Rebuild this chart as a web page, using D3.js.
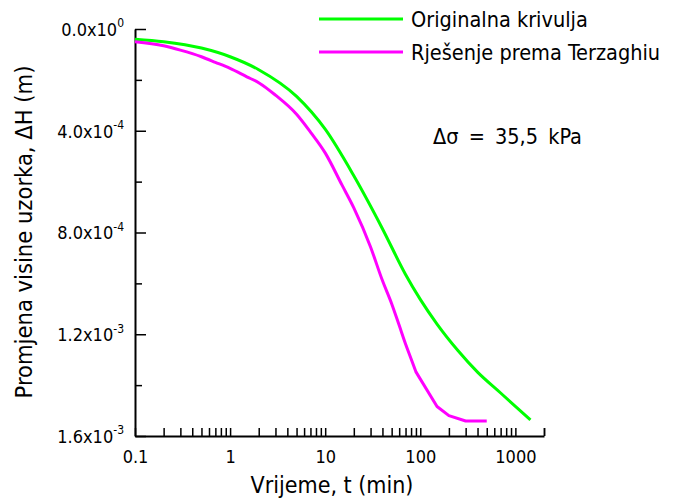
<!DOCTYPE html>
<html>
<head>
<meta charset="utf-8">
<script src="https://cdn.jsdelivr.net/npm/d3@7"></script>
<style>
  html, body { margin: 0; padding: 0; background: #fff; }
  svg text { font-family: "DejaVu Sans Condensed", "DejaVu Sans", sans-serif; font-stretch: condensed; fill: #000; }
</style>
</head>
<body>
<svg id="chart" width="691" height="500"></svg>
<script>
// Settlement curve: time (min) vs. change in sample height (m)
const originalTime = [0.1, 0.2, 0.5, 1, 2, 5, 10, 20, 40, 70, 100, 150, 250, 400, 700, 1440];
const originalDH   = [0.040e-3, 0.050e-3, 0.075e-3, 0.109e-3, 0.160e-3, 0.265e-3, 0.394e-3, 0.577e-3,
                      0.785e-3, 0.965e-3, 1.063e-3, 1.160e-3, 1.265e-3, 1.349e-3, 1.431e-3, 1.537e-3];

// Terzaghi consolidation solution
const terzaghiTime = [0.1, 0.2, 0.3, 0.5, 0.7, 1, 1.5, 2, 3, 5, 7, 10, 15, 20, 30, 40, 50, 60, 70, 80, 90, 150, 200, 300, 500];
const terzaghiDH   = [0.050e-3, 0.066e-3, 0.083e-3, 0.109e-3, 0.131e-3, 0.155e-3, 0.188e-3, 0.211e-3, 0.260e-3,
                      0.335e-3, 0.405e-3, 0.487e-3, 0.613e-3, 0.703e-3, 0.857e-3, 0.989e-3, 1.080e-3, 1.165e-3,
                      1.238e-3, 1.296e-3, 1.348e-3, 1.484e-3, 1.520e-3, 1.541e-3, 1.541e-3];

const seriesNames = ["Originalna krivulja", "Rješenje prema Terzaghiu"];
const seriesColors = ["#00ff00", "#ff00ff"];

const xMajorTicks = [0.1, 1, 10, 100, 1000];
const xTickLabels = ["0.1", "1", "10", "100", "1000"];
const yMajorTicks = [0, 4e-4, 8e-4, 1.2e-3, 1.6e-3];
const yMantissa = ["0.0", "4.0", "8.0", "1.2", "1.6"];
const yExponent = ["0", "-4", "-4", "-3", "-3"];
const yMinorTicks = [2e-4, 6e-4, 10e-4, 14e-4];

const xTitle = "Vrijeme, t (min)";
const yTitle = "Promjena visine uzorka, \u0394H (m)";
const note = "\u0394\u03c3 = 35,5 kPa";

const svg = d3.select("#chart");
const x = d3.scaleLog().domain([0.1, 2000]).range([135, 544]);
const y = d3.scaleLinear().domain([0, 1.6e-3]).range([29, 436]);

// all log ticks for the time axis: every integer multiple inside each decade
const xAllTicks = [];
for (let e = -1; e <= 3; e++) {
  for (let m = 1; m <= 9; m++) {
    const v = m * Math.pow(10, e);
    if (v <= 2000) xAllTicks.push(+v.toPrecision(3));
  }
}
xAllTicks.push(2000);

const xAxis = d3.axisBottom(x)
  .tickValues(xAllTicks)
  .tickSizeInner(-8)
  .tickSizeOuter(0)
  .tickPadding(14)
  .tickFormat(d => {
    const i = xMajorTicks.findIndex(v => Math.abs(v - d) < 1e-9);
    return i >= 0 ? xTickLabels[i] : "";
  });

const gx = svg.append("g").attr("transform", `translate(0,${y(1.6e-3)})`).call(xAxis);
gx.select(".domain").attr("stroke", "#000").attr("stroke-width", 2);
gx.selectAll(".tick line").attr("stroke", "#000").attr("stroke-width", 1.5);
gx.selectAll(".tick text").attr("font-size", 18).attr("font-family", null);

// vertical axis: minor ticks first, then major ticks with labels
const gyMinor = svg.append("g").attr("transform", `translate(${x(0.1)},0)`)
  .call(d3.axisLeft(y).tickValues(yMinorTicks).tickSizeInner(-7).tickSizeOuter(0).tickFormat(""));
gyMinor.select(".domain").remove();
gyMinor.selectAll(".tick line").attr("stroke", "#000").attr("stroke-width", 1.5);

const gy = svg.append("g").attr("transform", `translate(${x(0.1)},0)`)
  .call(d3.axisLeft(y).tickValues(yMajorTicks).tickSizeInner(-11).tickSizeOuter(0).tickPadding(11).tickFormat(""));
gy.select(".domain").attr("stroke", "#000").attr("stroke-width", 2);
gy.selectAll(".tick line").attr("stroke", "#000").attr("stroke-width", 1.5);
gy.selectAll(".tick text")
  .attr("font-size", 18).attr("font-family", null)
  .attr("x", -11).attr("dy", "0.35em")
  .each(function (d, i) {
    const t = d3.select(this);
    t.append("tspan").text(yMantissa[i] + "x10");
    t.append("tspan").attr("font-size", 12).attr("dy", "-0.7em").text(yExponent[i]);
  });

// curves
const originalPts = originalTime.map((t, i) => [t, originalDH[i]]);
const terzaghiPts = terzaghiTime.map((t, i) => [t, terzaghiDH[i]]);

const smooth = d3.line().x(d => x(d[0])).y(d => y(d[1])).curve(d3.curveMonotoneX);
const straight = d3.line().x(d => x(d[0])).y(d => y(d[1]));

svg.append("path").datum(originalPts)
  .attr("fill", "none").attr("stroke", seriesColors[0]).attr("stroke-width", 3)
  .attr("d", smooth);

// Terzaghi curve: smooth through the dense early readings, straight segments between late readings
const splitT = 90;
const early = terzaghiPts.filter(d => d[0] <= splitT);
const late = terzaghiPts.filter(d => d[0] >= splitT);
const terzaghiPath = smooth(early) + straight(late).replace(/^M[^L]*/, "");
svg.append("path")
  .attr("fill", "none").attr("stroke", seriesColors[1]).attr("stroke-width", 3)
  .attr("stroke-linejoin", "round")
  .attr("d", terzaghiPath);

// axis titles
svg.append("text").attr("x", 332).attr("y", 493).attr("text-anchor", "middle")
  .attr("font-size", 23).text(xTitle);
svg.append("text").attr("transform", "translate(32,232) rotate(-90)").attr("text-anchor", "middle")
  .attr("font-size", 23.5).text(yTitle);

// legend
const legend = svg.append("g");
seriesNames.forEach((name, i) => {
  const cy = 19 + i * 33;
  legend.append("line").attr("x1", 319).attr("x2", 403).attr("y1", cy).attr("y2", cy)
    .attr("stroke", seriesColors[i]).attr("stroke-width", 3);
  legend.append("text").attr("x", 411).attr("y", cy + 8).attr("font-size", 21.5).text(name);
});

svg.append("text").attr("x", 433).attr("y", 144).attr("font-size", 21.5)
  .attr("word-spacing", 4).text(note);
</script>
</body>
</html>
